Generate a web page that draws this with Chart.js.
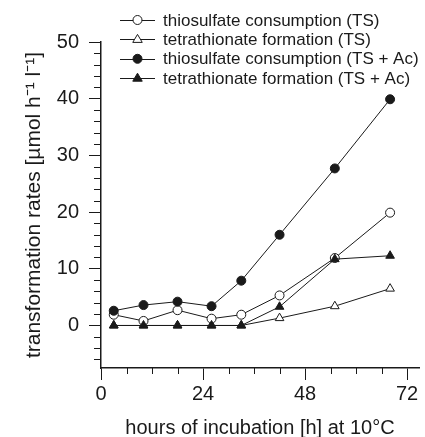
<!DOCTYPE html>
<html>
<head>
<meta charset="utf-8">
<script src="https://cdn.jsdelivr.net/npm/chart.js@4.4.0/dist/chart.umd.min.js"></script>
<style>
  html, body { margin: 0; padding: 0; background: #fff; }
</style>
</head>
<body>
<canvas id="c" width="425" height="437"></canvas>
<script>
// sampling times (hours)
const hours = [3, 10, 18, 26, 33, 42, 55, 68];

// rates
const thioConsTS   = [1.9, 0.8, 2.7, 1.2, 1.9, 5.3, 11.9, 19.9];
const tetraFormTS  = [0, 0, 0, 0, 0, 1.3, 3.4, 6.5];
const thioConsAc   = [2.6, 3.6, 4.2, 3.4, 7.9, 16.0, 27.7, 39.9];
const tetraFormAc  = [0, 0, 0, 0, 0, 3.3, 11.7, 12.3];

const seriesLabels = [
    'thiosulfate consumption (TS)',
    'tetrathionate formation (TS)',
    'thiosulfate consumption (TS + Ac)',
    'tetrathionate formation (TS + Ac)'
];

const xTicks = [0, 24, 48, 72];
const yTicks = [0, 10, 20, 30, 40, 50];

const FONT = '"Liberation Sans", Arial, Helvetica, sans-serif';
const INK = '#1a1a1a';

function pts(values) {
    return hours.map((h, i) => ({ x: h, y: values[i] }));
}

function makeSet(label, values, style, filled, order) {
    return {
        label: label,
        data: pts(values),
        borderColor: INK,
        borderWidth: 1,
        pointStyle: style,
        pointRadius: style === 'triangle' ? 5 : 4.5,
        pointBackgroundColor: filled ? INK : '#fff',
        pointBorderColor: INK,
        pointBorderWidth: 1,
        fill: false,
        tension: 0,
        order: order
    };
}

const datasets = [
    makeSet(seriesLabels[0], thioConsTS, 'circle', false, 1),
    makeSet(seriesLabels[1], tetraFormTS, 'triangle', false, 2),
    makeSet(seriesLabels[2], thioConsAc, 'circle', true, 0),
    makeSet(seriesLabels[3], tetraFormAc, 'triangle', true, 0)
];

// short minor ticks every 6 h / 2 units, and the legend inside the plot
const extras = {
    id: 'extras',
    afterDraw(chart) {
        const ctx = chart.ctx;
        const xs = chart.scales.x, ys = chart.scales.y;
        const area = chart.chartArea;
        ctx.save();
        ctx.strokeStyle = INK;
        ctx.lineWidth = 1;
        ctx.beginPath();
        for (let v = 6; v < xs.max; v += 6) {
            if (v % 24 === 0) continue;
            const px = Math.round(xs.getPixelForValue(v)) + 0.5;
            ctx.moveTo(px, area.bottom);
            ctx.lineTo(px, area.bottom + 6);
        }
        for (let v = -6; v < ys.max; v += 2) {
            if (v % 10 === 0) continue;
            const py = Math.round(ys.getPixelForValue(v)) + 0.5;
            ctx.moveTo(area.left, py);
            ctx.lineTo(area.left - 7, py);
        }
        ctx.stroke();

        // legend
        ctx.font = '17px ' + FONT;
        ctx.textBaseline = 'middle';
        chart.data.datasets.forEach((ds, i) => {
            const y = 20 + i * 19.4;
            const x0 = 120, x1 = 155, xm = 137.5;
            ctx.beginPath();
            ctx.moveTo(x0, Math.round(y) + 0.5);
            ctx.lineTo(x1, Math.round(y) + 0.5);
            ctx.strokeStyle = INK;
            ctx.stroke();
            ctx.beginPath();
            if (ds.pointStyle === 'circle') {
                ctx.arc(xm, y, 4.5, 0, Math.PI * 2);
            } else {
                const r = 5;
                ctx.moveTo(xm, y - r);
                ctx.lineTo(xm + r * 0.95, y + r * 0.6);
                ctx.lineTo(xm - r * 0.95, y + r * 0.6);
                ctx.closePath();
            }
            ctx.fillStyle = ds.pointBackgroundColor;
            ctx.fill();
            ctx.stroke();
            ctx.fillStyle = INK;
            ctx.fillText(ds.label, 163, y + 1);
        });
        ctx.restore();
    }
};

new Chart(document.getElementById('c'), {
    type: 'line',
    data: { datasets: datasets },
    options: {
        responsive: false,
        animation: false,
        layout: { padding: { top: 42, right: 1, left: 0, bottom: 0 } },
        plugins: {
            legend: { display: false },
            tooltip: { enabled: false }
        },
        scales: {
            x: {
                type: 'linear',
                min: 0,
                max: 74.8,
                afterBuildTicks: s => { s.ticks = xTicks.map(v => ({ value: v })); },
                afterFit: s => { s.height = 69; s.paddingRight = 0; },
                grid: { drawOnChartArea: false, tickLength: 12, color: INK },
                border: { color: INK, width: 1.5 },
                ticks: { color: INK, font: { family: FONT, size: 20 }, padding: 2, maxRotation: 0 },
                title: {
                    display: true,
                    text: 'hours of incubation [h] at 10°C',
                    color: INK,
                    font: { family: FONT, size: 20 },
                    padding: { top: 0, bottom: -3 }
                }
            },
            y: {
                min: -7.5,
                max: 50,
                afterBuildTicks: s => { s.ticks = yTicks.map(v => ({ value: v })); },
                afterFit: s => { s.width = 101; },
                grid: { drawOnChartArea: false, tickLength: 12, color: INK },
                border: { color: INK, width: 1.5 },
                ticks: { color: INK, font: { family: FONT, size: 20 }, padding: 10 },
                title: {
                    display: true,
                    text: 'transformation rates [µmol h⁻¹ l⁻¹]',
                    color: INK,
                    font: { family: FONT, size: 21 },
                    padding: { top: 22, bottom: 0 }
                }
            }
        }
    },
    plugins: [extras]
});
</script>
</body>
</html>
